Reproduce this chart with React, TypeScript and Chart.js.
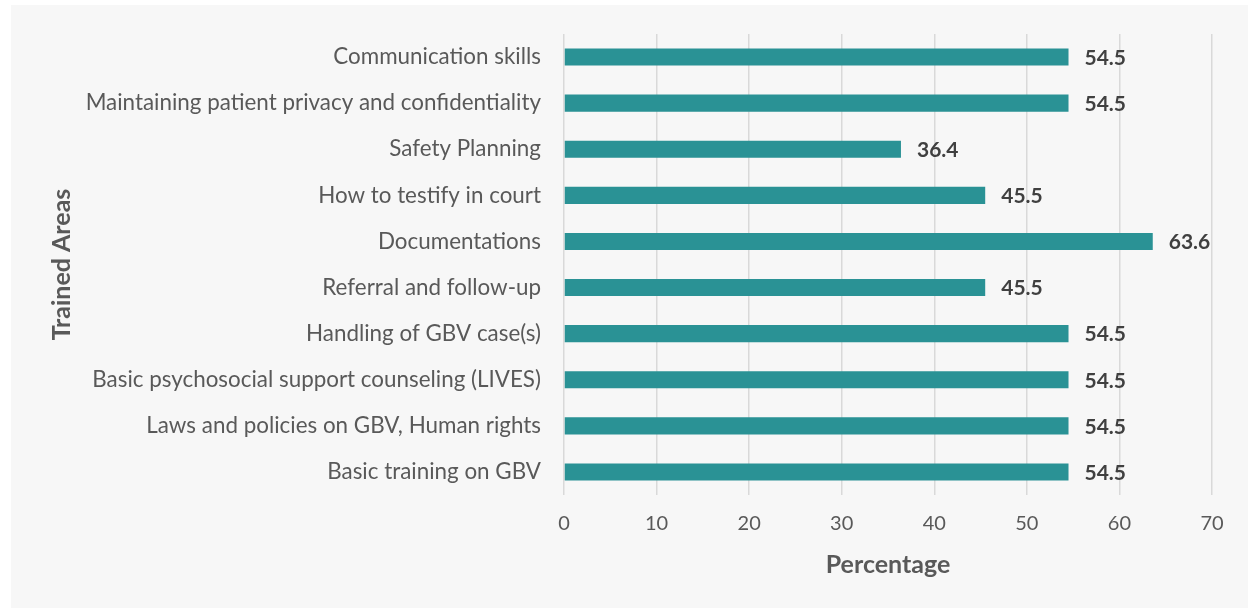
import React, { useEffect, useRef } from "react";
import { Chart, registerables } from "chart.js";

Chart.register(...registerables);

const categories = [
  "Communication skills",
  "Maintaining patient privacy and confidentiality",
  "Safety Planning",
  "How to testify in court",
  "Documentations",
  "Referral and follow-up",
  "Handling of GBV case(s)",
  "Basic psychosocial support counseling (LIVES)",
  "Laws and policies on GBV, Human rights",
  "Basic training on GBV",
];

const percentages = [54.5, 54.5, 36.4, 45.5, 63.6, 45.5, 54.5, 54.5, 54.5, 54.5];

const xTicks = [0, 10, 20, 30, 40, 50, 60, 70];

const FONT = "Lato, 'Noto Sans', sans-serif";

const valueLabels = {
  id: "valueLabels",
  afterDatasetsDraw(chart: any) {
    const ctx = chart.ctx;
    const meta = chart.getDatasetMeta(0);
    ctx.save();
    ctx.font = `bold 21px ${FONT}`;
    ctx.fillStyle = "#404040";
    ctx.textAlign = "left";
    ctx.textBaseline = "middle";
    meta.data.forEach((bar: any, i: number) => {
      ctx.fillText(percentages[i].toFixed(1), bar.x + 16, bar.y + 1);
    });
    ctx.restore();
  },
};

export default function App() {
  const ref = useRef<HTMLCanvasElement | null>(null);

  useEffect(() => {
    if (!ref.current) return;
    const chart = new Chart(ref.current, {
      type: "bar",
      data: {
        labels: categories,
        datasets: [
          {
            data: percentages,
            backgroundColor: "#2a9295",
            barPercentage: 0.74,
            categoryPercentage: 0.5,
          },
        ],
      },
      options: {
        indexAxis: "y",
        animation: false,
        responsive: false,
        maintainAspectRatio: false,
        layout: { padding: { top: 29, right: 36, left: 0, bottom: 0 } },
        plugins: {
          legend: { display: false },
          tooltip: { enabled: false },
        },
        scales: {
          x: {
            min: 0,
            max: 70,
            afterBuildTicks: (scale: any) => {
              scale.ticks = xTicks.map((v) => ({ value: v }));
            },
            afterFit: (scale: any) => {
              scale.height = 113;
            },
            grid: { color: "#d9d9d9", lineWidth: 1.5, drawTicks: false },
            border: { display: false },
            ticks: {
              color: "#595959",
              font: { family: FONT, size: 20 },
              padding: 17,
            },
            title: {
              display: true,
              text: "Percentage",
              color: "#595959",
              font: { family: FONT, size: 25, weight: "bold" },
              padding: { top: 0, bottom: 28 },
            },
          },
          y: {
            afterFit: (scale: any) => {
              scale.width = 553;
            },
            grid: { display: false },
            border: { display: false },
            ticks: {
              color: "#595959",
              font: { family: FONT, size: 22.4 },
              padding: 15,
            },
            title: {
              display: true,
              text: "Trained Areas",
              color: "#595959",
              font: { family: FONT, size: 25, weight: "bold" },
              padding: { top: 36, bottom: 0 },
            },
          },
        },
      },
      plugins: [valueLabels],
    });
    return () => chart.destroy();
  }, []);

  return (
    <div
      style={{
        position: "absolute",
        left: 0,
        top: 0,
        width: 1248,
        height: 608,
        background: "#ffffff",
        overflow: "hidden",
      }}
    >
      <div
        style={{
          position: "absolute",
          left: 11,
          top: 5,
          width: 1237,
          height: 603,
          background: "#f7f7f7",
        }}
      >
        <canvas ref={ref} width={1237} height={603} style={{ display: "block" }} />
      </div>
    </div>
  );
}
